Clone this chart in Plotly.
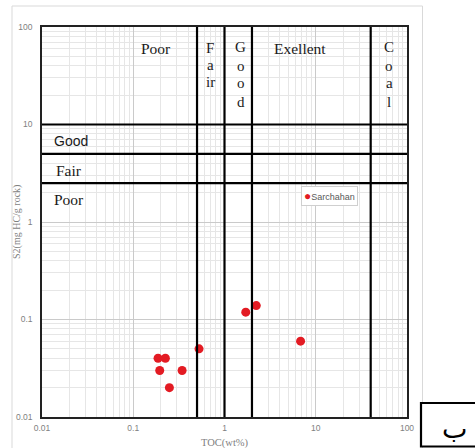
import plotly.graph_objects as go

# ---- data ----
toc = [0.187, 0.225, 0.195, 0.343, 0.249, 0.526, 1.71, 2.23, 6.82]
s2 = [0.040, 0.040, 0.030, 0.030, 0.020, 0.050, 0.119, 0.139, 0.060]
series_name = "Sarchahan"
tick_vals = [0.01, 0.1, 1, 10, 100]
tick_text = ["0.01", "0.1", "1", "10", "100"]
toc_limits = [0.5, 1, 2, 40]
s2_limits = [10, 5, 2.5]

W, H = 475, 448
L, R, T, B = 42, 68, 27, 31
PW, PH = W - L - R, H - T - B
RED = "#e31b23"


def px(x):
    return (x - L) / PW


def py(y):
    return (H - B - y) / PH


minor = [m * 10.0 ** e for e in range(-2, 2) for m in range(2, 10)]

fig = go.Figure()
fig.add_trace(go.Scatter(
    x=toc, y=s2, mode="markers", name=series_name, showlegend=False,
    marker=dict(color=RED, size=9, line=dict(width=0)),
))

shapes = []
for v in toc_limits:
    shapes.append(dict(type="line", xref="x", yref="paper", x0=v, x1=v, y0=0, y1=1,
                       line=dict(color="black", width=2.2), layer="above"))
for v in s2_limits:
    shapes.append(dict(type="line", xref="paper", yref="y", x0=0, x1=1, y0=v, y1=v,
                       line=dict(color="black", width=2.2), layer="above"))
# outer light frame
shapes.append(dict(type="rect", xref="paper", yref="paper",
                   x0=px(12), x1=px(422.5), y0=py(452), y1=py(6),
                   line=dict(color="#d9d9d9", width=1), layer="below"))
# box with letter
shapes.append(dict(type="rect", xref="paper", yref="paper",
                   x0=px(421), x1=px(480), y0=py(446.5), y1=py(403),
                   line=dict(color="black", width=2.2), fillcolor="white", layer="above"))
fig.update_layout(shapes=shapes)

serif = "Liberation Serif, Times New Roman, serif"
sans = "Liberation Sans, Arial, sans-serif"
ann = []


def add_text(text, x, y, size=15.5, font=serif, xanchor="center", color="#1a1a1a", angle=0):
    ann.append(dict(text=text, x=px(x), y=py(y), xref="paper", yref="paper",
                    showarrow=False, xanchor=xanchor, yanchor="middle", textangle=angle,
                    font=dict(family=font, size=size, color=color)))


add_text("Poor", 156, 48)
for t, y in zip(["F", "a", "ir"], [48, 65, 82]):
    add_text(t, 210, y, 15)
for t, y in zip(["G", "o", "o", "d"], [47, 65.5, 83, 101.5]):
    add_text(t, 240.5, y, 15)
add_text("Exellent", 300, 48)
for t, y in zip(["C", "o", "a", "l"], [47, 65.5, 83.3, 101.7]):
    add_text(t, 389, y, 15)
add_text("Good", 52, 141, 14, sans, "left")
add_text("Fair", 54, 170, 15.5, serif, "left")
add_text("Poor", 52, 199, 15.5, serif, "left")

# axis titles
add_text("TOC(wt%)", 224.5, 443, 10.5, serif, "center", "#7f7f7f")
add_text("S2(mg HC/g rock)", 17, 222, 10, serif, "center", "#7f7f7f", -90)

# legend box (drawn as a bordered annotation)
ann.append(dict(text=f"<span style='color:{RED};font-size:12px'>●</span>{series_name}",
                x=px(301), y=py(186), xref="paper", yref="paper",
                showarrow=False, xanchor="left", yanchor="top",
                bgcolor="white", bordercolor="#cfcfcf", borderwidth=1, borderpad=2,
                font=dict(family=sans, size=9, color="#595959")))

ann.append(dict(text="ب", x=px(454), y=py(428.5), xref="paper", yref="paper",
                showarrow=False, xanchor="center", yanchor="middle",
                font=dict(family="DejaVu Sans", size=27, color="black")))
fig.update_layout(annotations=ann)

tick_font = dict(family=sans, size=8.5, color="#7f7f7f")
axis_common = dict(
    type="log", range=[-2, 2], tickvals=tick_vals, ticktext=tick_text,
    showgrid=True, gridcolor="#cacaca", gridwidth=1,
    minor=dict(tickvals=minor, showgrid=True, gridcolor="#e6e6e6", gridwidth=1, ticks=""),
    showline=True, linecolor="#222222", linewidth=1.5, mirror=True,
    ticks="", zeroline=False, tickfont=tick_font, automargin=False,
)
fig.update_xaxes(**axis_common, ticklabelstandoff=2)
fig.update_yaxes(**axis_common, ticklabelstandoff=6)

fig.update_layout(
    width=W, height=H, autosize=False,
    margin=dict(l=L, r=R, t=T, b=B, pad=0),
    paper_bgcolor="white", plot_bgcolor="white",
    showlegend=False,
)

fig.write_html("out.html")
